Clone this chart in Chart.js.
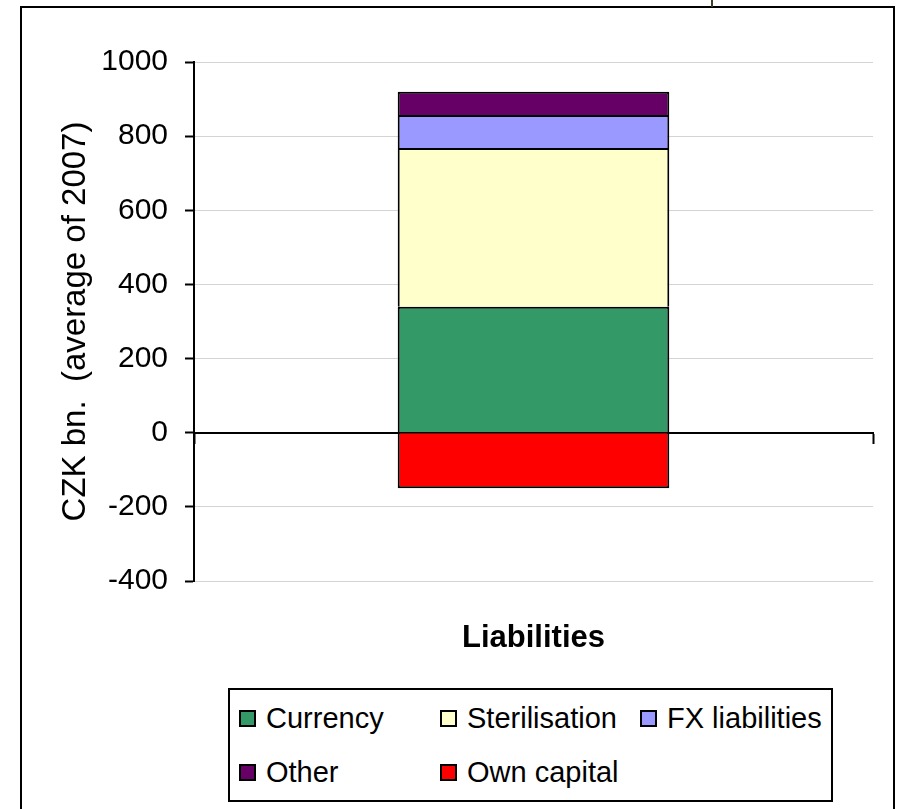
<!DOCTYPE html>
<html>
<head>
<meta charset="utf-8">
<title>CZK liabilities, average of 2007</title>
<script src="https://cdn.jsdelivr.net/npm/chart.js@4.4.0/dist/chart.umd.min.js"></script>
<style>
  html, body { margin: 0; padding: 0; background: #fff; width: 901px; height: 809px; overflow: hidden; position: relative;
    font-family: 'Liberation Sans', Arial, sans-serif; }
  #frame { position: absolute; left: 20px; top: 6px; width: 871px; height: 900px; border: 2px solid #000; border-bottom: none; }
  #mark { position: absolute; left: 711px; top: 0; width: 2px; height: 7px; background: #3f3f26; }
  #chart { position: absolute; left: 0; top: 0; }
  #legend { position: absolute; left: 228px; top: 688px; width: 601px; height: 110px; border: 2px solid #000; background: #fff; }
  .item { position: absolute; display: flex; align-items: center; height: 30px; font-size: 29px; color: #000; white-space: nowrap; }
  .sw { width: 13px; height: 13px; border: 2px solid #000; margin-right: 10px; flex: none; }
</style>
</head>
<body>
<div id="frame"></div>
<div id="mark"></div>
<canvas id="chart" width="901" height="809"></canvas>
<div id="legend"></div>
<script>
// Balance-sheet liabilities, CZK bn. (average of 2007)
const categories = ['Liabilities'];
const seriesNames = ['Currency', 'Sterilisation', 'FX liabilities', 'Other', 'Own capital'];
const currency = [340];
const sterilisation = [428];
const fxLiabilities = [89];
const other = [63];
const ownCapital = [-150];
const yTicks = [-400, -200, 0, 200, 400, 600, 800, 1000];
const seriesColors = ['#339966', '#FFFFCC', '#9999FF', '#660066', '#FF0000'];

const FONT = "'Liberation Sans', Arial, sans-serif";
Chart.defaults.font.family = FONT;
Chart.defaults.color = '#000';

const seriesValues = [currency, sterilisation, fxLiabilities, other, ownCapital];
const datasets = seriesNames.map((name, i) => ({
  label: name,
  data: seriesValues[i],
  backgroundColor: seriesColors[i],
  borderColor: '#000',
  borderWidth: 2
}));

const chart = new Chart(document.getElementById('chart'), {
  type: 'bar',
  data: { labels: categories, datasets },
  options: {
    responsive: false,
    animation: false,
    devicePixelRatio: 1,
    layout: { padding: { left: 30, top: 62, right: 28, bottom: 0 } },
    plugins: { legend: { display: false }, tooltip: { enabled: false } },
    datasets: { bar: { barPercentage: 1, categoryPercentage: 0.4 } },
    scales: {
      x: {
        stacked: true,
        position: 'bottom',
        grid: { display: false },
        border: { display: false },
        ticks: { color: '#000', padding: 31, font: { size: 31, weight: 'bold' } },
        afterFit(s) { s.height = 228; }
      },
      // zero line with the closing tick at the right end
      x2: {
        type: 'category',
        position: { y: 0 },
        offset: true,
        z: 1,
        grid: { offset: true, drawOnChartArea: false, drawTicks: true, tickLength: 10, tickWidth: 2, tickColor: '#000' },
        border: { color: '#000', width: 2 },
        ticks: { display: false }
      },
      y: {
        stacked: true,
        min: -400,
        max: 1000,
        afterBuildTicks(s) { s.ticks = yTicks.map(v => ({ value: v })); },
        ticks: { callback: v => String(v), padding: 17, color: '#000', font: { size: 30 } },
        grid: { color: '#d4d4d4', lineWidth: 1, tickColor: '#000', tickLength: 9, tickWidth: 2 },
        border: { color: '#000', width: 2 },
        title: { display: true, text: 'CZK bn.  (average of 2007)', color: '#000', font: { size: 33 }, padding: { top: 26, bottom: 0 } },
        afterFit(s) { s.width = 164; }
      }
    }
  }
});

// legend laid out in a three-column grid
const legendEl = document.getElementById('legend');
const colX = [9, 210, 410];
const rowY = [13, 67];
chart.data.datasets.forEach((ds, i) => {
  const item = document.createElement('div');
  item.className = 'item';
  item.style.left = colX[i % 3] + 'px';
  item.style.top = rowY[Math.floor(i / 3)] + 'px';
  const sw = document.createElement('span');
  sw.className = 'sw';
  sw.style.background = ds.backgroundColor;
  const txt = document.createElement('span');
  txt.textContent = ds.label;
  item.appendChild(sw);
  item.appendChild(txt);
  legendEl.appendChild(item);
});
</script>
</body>
</html>
